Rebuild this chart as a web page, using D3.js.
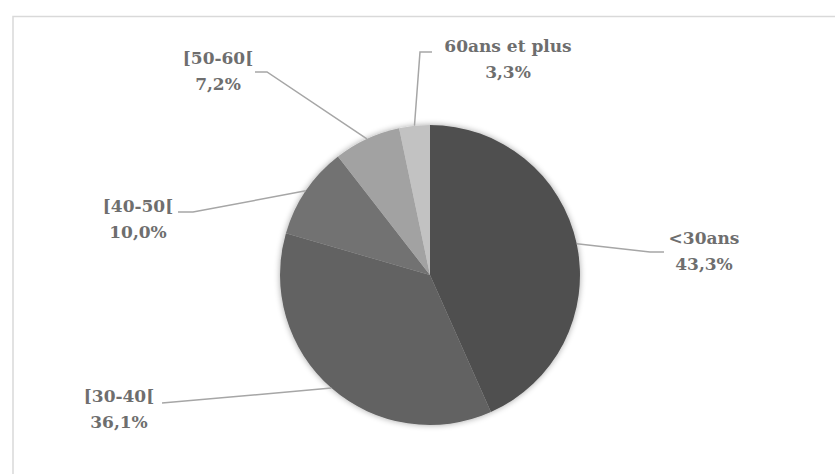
<!DOCTYPE html>
<html><head><meta charset="utf-8">
<script src="https://cdn.jsdelivr.net/npm/d3@7"></script>
<style>body{margin:0;background:#fff}svg{display:block}</style>
</head><body>
<svg id="c" width="835" height="474"></svg>
<script>
const categories = ["<30ans", "[30-40[", "[40-50[", "[50-60[", "60ans et plus"];
const values = [43.3, 36.1, 10.0, 7.2, 3.3];
const valueLabels = ["43,3%", "36,1%", "10,0%", "7,2%", "3,3%"];
const colors = ["#505050", "#626262", "#727272", "#a2a2a2", "#c2c2c2"];
// label layout: text centre, elbow point of leader line, end of leader line
const labelLayout = [
  {tx: 704, ty: 238, elbow: [650, 252], end: [664, 252]},
  {tx: 119, ty: 396, elbow: [162, 403], end: [162, 403]},
  {tx: 138, ty: 206, elbow: [193, 212], end: [178, 212]},
  {tx: 218, ty: 58,  elbow: [267, 72],  end: [255, 72]},
  {tx: 508, ty: 46,  elbow: [420, 52],  end: [432, 52]}
];

const svg = d3.select("#c");
svg.append("rect").attr("x", 13).attr("y", 16.5).attr("width", 900).attr("height", 600)
  .attr("fill", "#fff").attr("stroke", "#d9d9d9").attr("stroke-width", 1.5);

const defs = svg.append("defs");
const f = defs.append("filter").attr("id", "sh").attr("x", "-20%").attr("y", "-20%").attr("width", "140%").attr("height", "140%");
f.append("feGaussianBlur").attr("in", "SourceAlpha").attr("stdDeviation", 3).attr("result", "b");
f.append("feOffset").attr("in", "b").attr("dx", 0).attr("dy", 0).attr("result", "o");
f.append("feComponentTransfer").attr("in", "o").attr("result", "o2").append("feFuncA").attr("type", "linear").attr("slope", 0.35);
const m = f.append("feMerge");
m.append("feMergeNode").attr("in", "o2");
m.append("feMergeNode").attr("in", "SourceGraphic");

const cx = 430, cy = 275, r = 150;
const pie = d3.pie().sort(null).value(d => d)(values);
const arc = d3.arc().innerRadius(0).outerRadius(r);
const g = svg.append("g").attr("transform", `translate(${cx},${cy})`);
g.append("g").attr("filter", "url(#sh)").selectAll("path").data(pie).join("path")
  .attr("d", arc).attr("fill", (d, i) => colors[i]);

const outer = d3.arc().innerRadius(r).outerRadius(r);
pie.forEach((d, i) => {
  const p = outer.centroid(d);
  const L = labelLayout[i];
  svg.append("polyline")
    .attr("points", [[cx + p[0], cy + p[1]], L.elbow, L.end].map(q => q.join(",")).join(" "))
    .attr("fill", "none").attr("stroke", "#a6a6a6").attr("stroke-width", 1.5);
  const t = svg.append("text").attr("text-anchor", "middle")
    .attr("font-family", "DejaVu Serif, serif").attr("font-weight", "bold")
    .attr("font-size", 17).attr("fill", "#6e6e6e");
  t.append("tspan").attr("x", L.tx).attr("y", L.ty + 6).text(categories[i]);
  t.append("tspan").attr("x", L.tx).attr("y", L.ty + 32).text(valueLabels[i]);
});
</script>
</body></html>
